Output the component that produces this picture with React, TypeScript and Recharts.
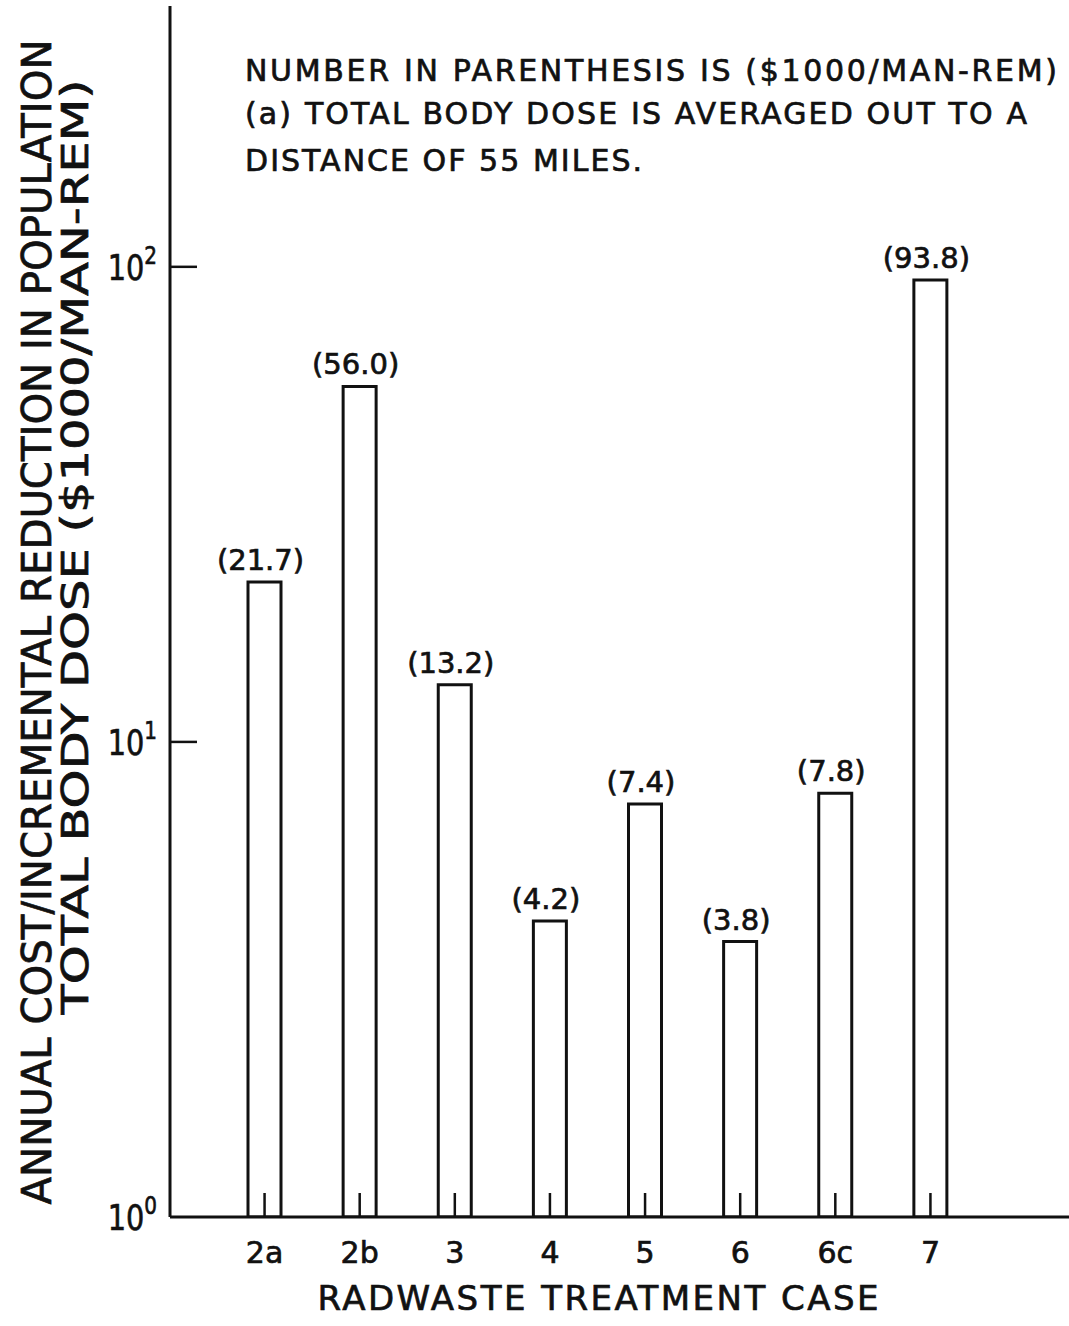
import React from 'react';
import { BarChart, Bar, XAxis, YAxis, LabelList } from 'recharts';

const cases = ['2a', '2b', '3', '4', '5', '6', '6c', '7'];
const costPerManRem = [21.7, 56.0, 13.2, 4.2, 7.4, 3.8, 7.8, 93.8];
const yTicks = [1, 10, 100];
const yTickExponents = ['0', '1', '2'];
const noteLines = [
  'NUMBER IN PARENTHESIS IS ($1000/MAN-REM)',
  '(a) TOTAL BODY DOSE IS AVERAGED OUT TO A',
  'DISTANCE OF 55 MILES.',
];
const yTitleLines = [
  'ANNUAL COST/INCREMENTAL REDUCTION IN POPULATION',
  'TOTAL BODY DOSE ($1000/MAN-REM)',
];
const xTitle = 'RADWASTE TREATMENT CASE';

const data = cases.map((c, i) => ({ case: c, value: costPerManRem[i] }));

const FONT = "'DejaVu Sans', sans-serif";
const INK = '#111';
const PEN = 0.7;

const XTick = (props: any) => {
  const { x, y, payload } = props;
  return (
    <g>
      <line x1={x} x2={x} y1={y} y2={y - 24} stroke={INK} strokeWidth={2.5} />
      <text
        x={x}
        y={y + 46}
        textAnchor="middle"
        fontSize={30}
        fill={INK}
        stroke={INK}
        strokeWidth={PEN}
        fontFamily={FONT}
      >
        {payload.value}
      </text>
    </g>
  );
};

const YTick = (props: any) => {
  const { x, y, payload } = props;
  const idx = yTicks.indexOf(payload.value);
  return (
    <g>
      {payload.value > 1 && (
        <line x1={x} x2={x + 27} y1={y} y2={y} stroke={INK} strokeWidth={2.5} />
      )}
      <g transform={`translate(${x - 13}, ${y + 13}) scale(0.8, 1)`}>
        <text
          x={0}
          y={0}
          textAnchor="end"
          fill={INK}
          stroke={INK}
          strokeWidth={PEN}
          fontFamily={FONT}
        >
          <tspan fontSize={36}>10</tspan>
          <tspan fontSize={25} dy={-16}>{yTickExponents[idx]}</tspan>
        </text>
      </g>
    </g>
  );
};

const BarLabel = (props: any) => {
  const { x, y, width, value } = props;
  return (
    <text
      x={x + width / 2 - 4}
      y={y - 12}
      textAnchor="middle"
      fontSize={29}
      fill={INK}
      stroke={INK}
      strokeWidth={PEN}
      fontFamily={FONT}
    >
      ({Number(value).toFixed(1)})
    </text>
  );
};

export default function App() {
  return (
    <div
      style={{
        position: 'absolute',
        left: 0,
        top: 0,
        width: 1069,
        height: 1326,
        overflow: 'hidden',
        background: '#fff',
      }}
    >
      <BarChart
        width={1100}
        height={1326}
        data={data}
        margin={{ top: 6, right: 0, bottom: 0, left: 0 }}
        style={{ fontFamily: FONT }}
      >
        <XAxis
          dataKey="case"
          height={109}
          interval={0}
          tickSize={0}
          tickMargin={0}
          tickLine={false}
          axisLine={{ stroke: INK, strokeWidth: 3 }}
          padding={{ left: 47, right: 122 }}
          tick={<XTick />}
        />
        <XAxis
          xAxisId="top"
          orientation="top"
          dataKey="case"
          height={0}
          tick={false}
          tickLine={false}
          axisLine={{ stroke: INK, strokeWidth: 3 }}
        />
        <YAxis
          scale="log"
          domain={[1, 354]}
          allowDataOverflow
          ticks={yTicks}
          interval={0}
          width={170}
          tickSize={0}
          tickMargin={0}
          tickLine={false}
          axisLine={{ stroke: INK, strokeWidth: 3 }}
          tick={<YTick />}
        />
        <Bar
          dataKey="value"
          barSize={33}
          fill="#fff"
          stroke={INK}
          strokeWidth={3}
          isAnimationActive={false}
        >
          <LabelList dataKey="value" content={<BarLabel />} />
        </Bar>
        <g fill={INK} stroke={INK} strokeWidth={PEN} fontFamily={FONT}>
          <text x={245} y={81} fontSize={30} textLength={812} lengthAdjust="spacing">
            {noteLines[0]}
          </text>
          <text x={245} y={124} fontSize={30} textLength={782} lengthAdjust="spacing">
            {noteLines[1]}
          </text>
          <text x={245} y={171} fontSize={30} textLength={397} lengthAdjust="spacing">
            {noteLines[2]}
          </text>
          <text
            transform="translate(51, 622) rotate(-90)"
            x={0}
            y={0}
            textAnchor="middle"
            fontSize={40}
            textLength={1165}
            lengthAdjust="spacingAndGlyphs"
          >
            {yTitleLines[0]}
          </text>
          <text
            transform="translate(88, 547) rotate(-90)"
            x={0}
            y={0}
            textAnchor="middle"
            fontSize={37}
            textLength={935}
            lengthAdjust="spacingAndGlyphs"
          >
            {yTitleLines[1]}
          </text>
          <text x={598} y={1310} textAnchor="middle" fontSize={34} textLength={561} lengthAdjust="spacing">
            {xTitle}
          </text>
        </g>
      </BarChart>
    </div>
  );
}
